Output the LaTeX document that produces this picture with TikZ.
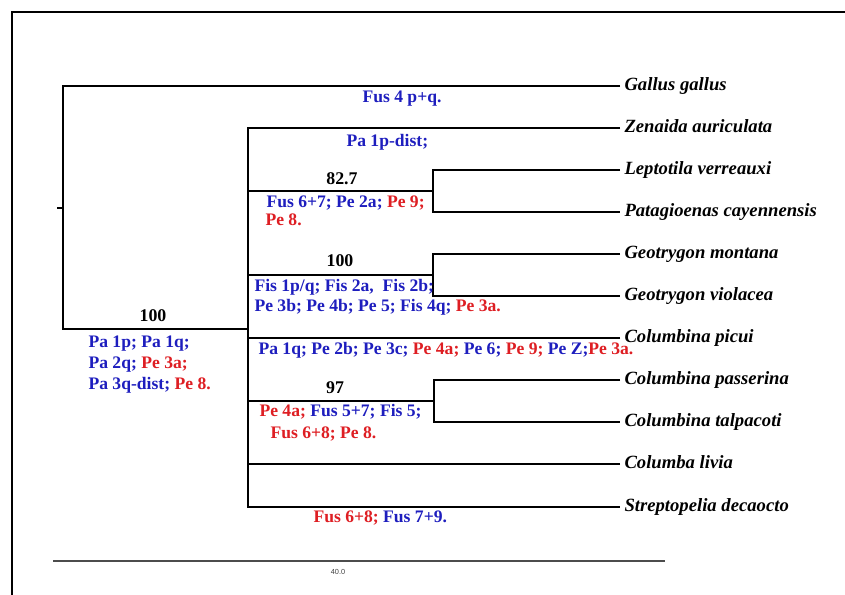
\documentclass[tikz,border=0pt]{standalone}
\usepackage{fontspec}
\setmainfont{Liberation Serif}
\setsansfont{Liberation Sans}
\definecolor{charblue}{RGB}{30,30,190}
\definecolor{charred}{RGB}{222,30,35}
\tikzset{every picture/.style={line width=0.75pt}}
\tikzset{
  branch/.style={line width=1.8pt},
  taxon/.style={anchor=west, inner xsep=3pt, inner ysep=0pt, text height=1.5ex, text depth=0pt,
    font=\fontsize{14}{16}\selectfont\bfseries\itshape},
  chars/.style={anchor=west, inner sep=0pt, text height=1.5ex, text depth=0pt,
    font=\fontsize{13.2}{15}\selectfont\bfseries},
  boot/.style={inner sep=0pt, text height=1.5ex, text depth=0pt,
    font=\fontsize{13.4}{15}\selectfont\bfseries}
}

\begin{document}
\begin{tikzpicture}[x=0.75pt,y=0.75pt,yscale=-1,xscale=1]
\useasboundingbox (0,0) rectangle (845,595);

% frame
\draw [line width=1.7pt] (12,595) -- (12,12) -- (845,12);

% taxa
\node [taxon] (gal) at (620,86) {Gallus gallus};
\node [taxon] (zen) at (620,128) {Zenaida auriculata};
\node [taxon] (lep) at (620,170) {Leptotila verreauxi};
\node [taxon] (pat) at (620,212) {Patagioenas cayennensis};
\node [taxon] (gmo) at (620,254) {Geotrygon montana};
\node [taxon] (gvi) at (620,296) {Geotrygon violacea};
\node [taxon] (cpi) at (620,338) {Columbina picui};
\node [taxon] (cpa) at (620,380) {Columbina passerina};
\node [taxon] (cta) at (620,422) {Columbina talpacoti};
\node [taxon] (cli) at (620,464) {Columba livia};
\node [taxon] (sde) at (620,507) {Streptopelia decaocto};

% internal nodes
\coordinate (stub) at (57,208);
\coordinate (root) at (63,208);
\coordinate (ncol) at (248,329);
\coordinate (nlep) at (433,191);
\coordinate (ngeo) at (433,275);
\coordinate (ncpa) at (434,401);

% branches
\draw [branch] (stub) -- (root);
\draw [branch] (gal.west) -| (root) |- (ncol);
\draw [branch] (zen.west) -| (ncol) |- (sde.west);
\draw [branch] (lep.west) -| (nlep) |- (pat.west);
\draw [branch] (nlep) -- (nlep -| ncol);
\draw [branch] (gmo.west) -| (ngeo) |- (gvi.west);
\draw [branch] (ngeo) -- (ngeo -| ncol);
\draw [branch] (cpi.west) -- (cpi.west -| ncol);
\draw [branch] (cpa.west) -| (ncpa) |- (cta.west);
\draw [branch] (ncpa) -- (ncpa -| ncol);
\draw [branch] (cli.west) -- (cli.west -| ncol);

% support values
\node [boot] (bcol) at (153,317) {100};
\node [boot] (blep) at (342,180) {82.7};
\node [boot] (bgeo) at (340,262) {100};
\node [boot] (bcpa) at (335,389) {97};

% character states
\node [chars] (sgal) at (362,98) {\textcolor{charblue}{Fus 4 p+q.}};
\node [chars] (szen) at (346,142) {\textcolor{charblue}{Pa 1p-dist;}};
\node [chars] (slep1) at (266,203) {\textcolor{charblue}{Fus 6+7; Pe 2a;} \textcolor{charred}{Pe 9;}};
\node [chars] (slep2) at (265,221) {\textcolor{charred}{Pe 8.}};
\node [chars] (sgeo1) at (254,287) {\textcolor{charblue}{Fis 1p/q; Fis 2a,\ \ Fis 2b;}};
\node [chars] (sgeo2) at (254,307) {\textcolor{charblue}{Pe 3b; Pe 4b; Pe 5; Fis 4q;} \textcolor{charred}{Pe 3a.}};
\node [chars] (scol1) at (88,343) {\textcolor{charblue}{Pa 1p; Pa 1q;}};
\node [chars] (scol2) at (88,364) {\textcolor{charblue}{Pa 2q;} \textcolor{charred}{Pe 3a;}};
\node [chars] (scol3) at (88,385) {\textcolor{charblue}{Pa 3q-dist;} \textcolor{charred}{Pe 8.}};
\node [chars] (scpi) at (258,350) {\textcolor{charblue}{Pa 1q; Pe 2b; Pe 3c;} \textcolor{charred}{Pe 4a;} \textcolor{charblue}{Pe 6;} \textcolor{charred}{Pe 9;} \textcolor{charblue}{Pe Z;}\textcolor{charred}{Pe 3a.}};
\node [chars] (scpa1) at (259,412) {\textcolor{charred}{Pe 4a;} \textcolor{charblue}{Fus 5+7; Fis 5;}};
\node [chars] (scpa2) at (270,434) {\textcolor{charred}{Fus 6+8; Pe 8.}};
\node [chars] (ssde) at (313,518) {\textcolor{charred}{Fus 6+8;} \textcolor{charblue}{Fus 7+9.}};

% scale bar
\coordinate (sbl) at (53,561);
\coordinate (sbr) at (665,561);
\draw [line width=1.2pt, color=black!70] (sbl) -- (sbr);
\node [font=\fontsize{5.5}{6}\selectfont\sffamily, text=black!75, inner sep=0pt] (sblab) at (338,572) {40.0};

\end{tikzpicture}
\end{document}
